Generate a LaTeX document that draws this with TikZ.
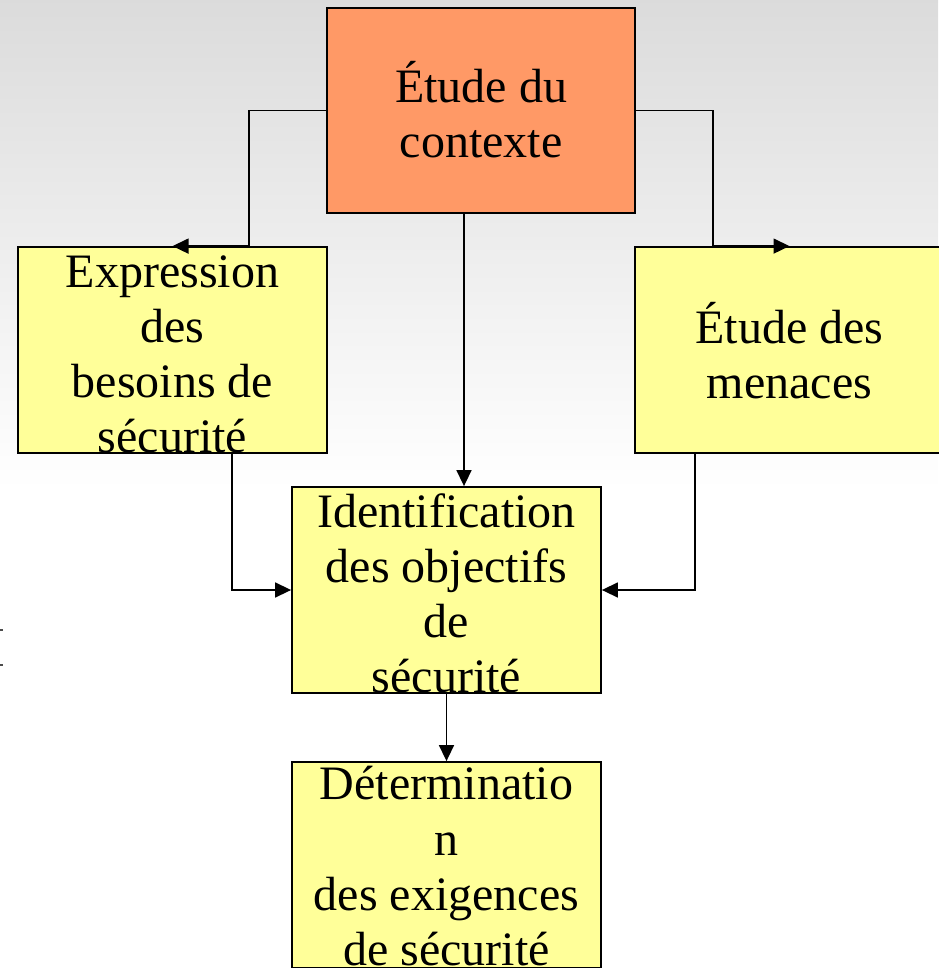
\documentclass[tikz,border=0pt]{standalone}
\usepackage{fontspec}
\setmainfont{Liberation Serif}
\usetikzlibrary{arrows.meta}
\definecolor{orangebox}{HTML}{FF9966}
\definecolor{yellowbox}{HTML}{FFFF99}
\tikzset{
  box/.style={draw=black, line width=1.8pt, minimum width=309pt, minimum height=206pt, inner sep=0pt},
  lbl/.style={anchor=base, inner sep=0pt, font=\fontsize{48}{55}\selectfont},
  conn/.style={line width=1.5pt, -{Triangle[length=16pt,width=15pt]}},
  plain/.style={line width=1.5pt}
}
\begin{document}
\begin{tikzpicture}[x=1pt,y=-1pt]
\useasboundingbox (0,0) rectangle (938,968);
\fill[white] (0,0) rectangle (938,968);
\shade[top color=black!14, bottom color=white] (0,0) rectangle (938,490);
% stray marks at the left edge
\fill[black!70] (0,629) rectangle (3,631);
\fill[black!70] (0,664) rectangle (3,666);
% boxes
\node[box, fill=orangebox, minimum width=308pt, minimum height=205pt] (top) at (481,110.5) {};
\node[box, fill=yellowbox] (left) at (172.5,350) {};
\node[box, fill=yellowbox] (right) at (789.5,350) {};
\node[box, fill=yellowbox] (mid) at (446.5,590) {};
\node[box, fill=yellowbox] (bot) at (446.5,865) {};
% connectors
\draw[conn] (top.west) -| ([xshift=76.5pt]left.north) -- (left.north);
\draw[conn] (top.east) -| ([xshift=-76.5pt]right.north) -- (right.north);
\draw[conn] ([xshift=-17pt]top.south) -- ([xshift=17.5pt]mid.north);
\draw[conn] ([xshift=59.5pt]left.south) |- (mid.west);
\draw[conn] ([xshift=-94.5pt]right.south) |- (mid.east);
\draw[conn] (mid.south) -- (bot.north);
% labels
\node[lbl] (t1) at (481,103) {Étude du};
\node[lbl] (t2) at (481,158) {contexte};
\node[lbl] (l1) at (172.5,287) {Expression};
\node[lbl] (l2) at (172.5,342) {des};
\node[lbl] (l3) at (172.5,397) {besoins de};
\node[lbl] (l4) at (172.5,452) {sécurité};
\node[lbl] (r1) at (789.5,343) {Étude des};
\node[lbl] (r2) at (789.5,398) {menaces};
\node[lbl] (m1) at (446.5,527) {Identification};
\node[lbl] (m2) at (446.5,582) {des objectifs};
\node[lbl] (m3) at (446.5,637) {de};
\node[lbl] (m4) at (446.5,692) {sécurité};
\node[lbl] (b1) at (446.5,799) {Déterminatio};
\node[lbl] (b2) at (446.5,855) {n};
\node[lbl] (b3) at (446.5,910) {des exigences};
\node[lbl] (b4) at (446.5,965) {de sécurité};
\end{tikzpicture}
\end{document}
